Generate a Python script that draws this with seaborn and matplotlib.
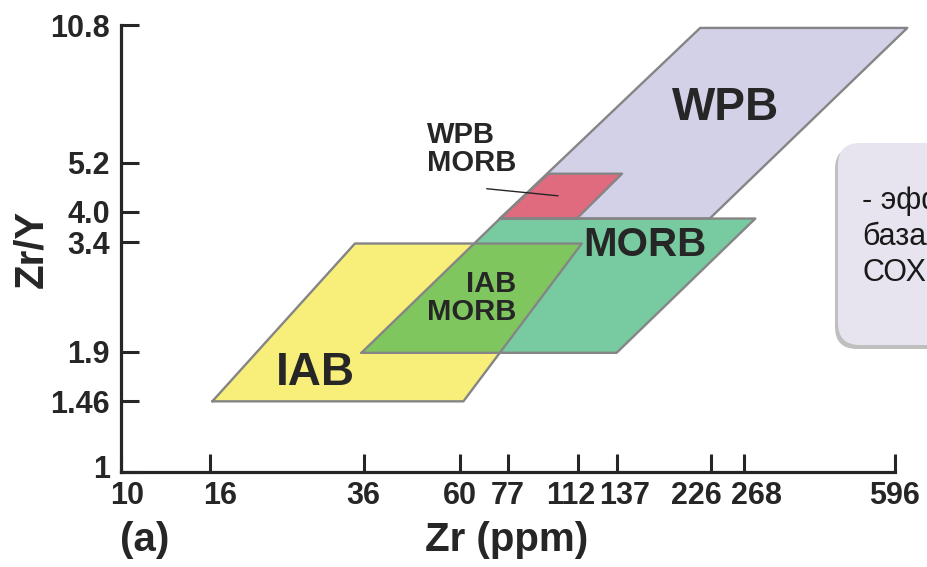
import matplotlib
matplotlib.use("Agg")
import matplotlib.pyplot as plt
import matplotlib.transforms as mtransforms
from matplotlib.patches import FancyBboxPatch
from matplotlib.ticker import FixedLocator, FixedFormatter, NullLocator
import seaborn as sns

# ---------------- data ----------------
x_ticks = [10, 16, 36, 60, 77, 112, 137, 226, 268, 596]
x_tick_labels = ["10", "16", "36", "60", "77", "112", "137", "226", "268", "596"]
y_ticks = [1, 1.46, 1.9, 3.4, 4.0, 5.2, 10.8]
y_tick_labels = ["1", "1.46", "1.9", "3.4", "4.0", "5.2", "10.8"]

iab_zr = [16.2, 61, 114, 34.4]
iab_zry = [1.46, 1.46, 3.38, 3.38]

morb_zr = [35.6, 137, 285, 74]
morb_zry = [1.89, 1.89, 3.86, 3.86]

wpb_zr = [74, 224, 636, 213]
wpb_zry = [3.86, 3.86, 10.64, 10.64]

wpbmorb_zr = [74, 111, 141, 95.5]
wpbmorb_zry = [3.86, 3.86, 4.9, 4.9]

# ---------------- style ----------------
sns.set_theme(style="ticks")
plt.rcParams["font.family"] = ["Liberation Sans", "DejaVu Sans"]
plt.rcParams["font.weight"] = "bold"

ink = "#262626"
edge = "#858585"

fig = plt.figure(figsize=(9.27, 5.67), dpi=100)
ax = fig.add_axes([0.1305, 0.1667, 0.835, 0.789])
ax.set_facecolor("white")
ax.set_xscale("log")
ax.set_yscale("log")
ax.set_xlim(10, 596)
ax.set_ylim(1, 10.8)

# ---------------- fields ----------------
yellow = ax.fill(iab_zr, iab_zry, facecolor="#f7ef7a", edgecolor="none", zorder=1)[0]
ax.fill(morb_zr, morb_zry, facecolor="#78caa0", edgecolor="none", zorder=2)
overlap = ax.fill(morb_zr, morb_zry, facecolor="#80c65e", edgecolor="none", zorder=3)[0]
overlap.set_clip_path(yellow)
ax.fill(wpb_zr, wpb_zry, facecolor="#d3d1e8", edgecolor="none", zorder=2, clip_on=False)
ax.fill(wpbmorb_zr, wpbmorb_zry, facecolor="#e06a7e", edgecolor="none", zorder=4)

for zr, zry in [(iab_zr, iab_zry), (morb_zr, morb_zry), (wpb_zr, wpb_zry),
                (wpbmorb_zr, wpbmorb_zry)]:
    sns.lineplot(x=zr + [zr[0]], y=zry + [zry[0]], sort=False, estimator=None,
                 color=edge, lw=1.7, ax=ax, zorder=5, clip_on=False, legend=False)

# ---------------- labels inside ----------------
ax.text(243, 6.94, "WPB", fontsize=33, ha="center", va="center", color=ink, zorder=6)
ax.text(159, 3.35, "MORB", fontsize=29, ha="center", va="center", color=ink, zorder=6)
ax.text(27.9, 1.70, "IAB", fontsize=33, ha="center", va="center", color=ink, zorder=6)
ax.text(80.5, 2.525, "IAB\nMORB", fontsize=21, ha="right", va="center",
        multialignment="right", linespacing=1.0, color=ink, zorder=6)
ax.text(50.3, 5.6, "WPB\nMORB", fontsize=21, ha="left", va="center",
        multialignment="left", linespacing=1.0, color=ink, zorder=6)
ax.annotate("", xy=(102, 4.35), xytext=(68, 4.53),
            arrowprops=dict(arrowstyle="-", color=ink, lw=1.0), zorder=6)

# ---------------- axes ----------------
sns.despine(ax=ax)
for s in ("left", "bottom"):
    ax.spines[s].set_linewidth(2.3)
    ax.spines[s].set_color(ink)
    ax.spines[s].set_zorder(7)

ax.xaxis.set_major_locator(FixedLocator(x_ticks))
ax.xaxis.set_major_formatter(FixedFormatter(x_tick_labels))
ax.xaxis.set_minor_locator(NullLocator())
ax.yaxis.set_major_locator(FixedLocator(y_ticks))
ax.yaxis.set_major_formatter(FixedFormatter(y_tick_labels))
ax.yaxis.set_minor_locator(NullLocator())
ax.tick_params(axis="both", direction="in", length=13, width=2.2, color=ink,
               labelsize=22, labelcolor=ink)
ax.tick_params(axis="x", pad=6)
ax.tick_params(axis="y", pad=8)

# nudge crowded tick labels sideways (pixels), as in the original figure
x_label_shift = [6, 10, 0, 0, 0, -8, 8, -15, 13, 0]
y_label_shift = [6, 0, 0, 0, 0, 0, 0]
for tick, dx in zip(ax.xaxis.get_major_ticks(), x_label_shift):
    tick.label1.set_fontweight("bold")
    tick.label1.set_transform(tick.label1.get_transform()
                              + mtransforms.ScaledTranslation(dx / 100, 0, fig.dpi_scale_trans))
for tick, dy in zip(ax.yaxis.get_major_ticks(), y_label_shift):
    tick.label1.set_fontweight("bold")
    tick.label1.set_transform(tick.label1.get_transform()
                              + mtransforms.ScaledTranslation(0, dy / 100, fig.dpi_scale_trans))

ax.set_xlabel("Zr (ppm)", fontsize=29, fontweight="bold", color=ink, va="center")
ax.xaxis.set_label_coords(0.4987, -0.151)
ax.set_ylabel("Zr/Y", fontsize=29, fontweight="bold", color=ink, va="center")
ax.yaxis.set_label_coords(-0.116, 0.50)

fig.text(145 / 927, 1 - 540 / 567, "(a)", fontsize=29, fontweight="bold",
         ha="center", va="center", color=ink)

# ---------------- note box (cut by the right edge) ----------------
ident = mtransforms.IdentityTransform()
shadow = FancyBboxPatch((835, 567 - 349), 160, 202,
                        boxstyle="round,pad=0,rounding_size=22",
                        facecolor="#8c8c8c", edgecolor="none", alpha=0.55,
                        transform=ident, zorder=8)
box = FancyBboxPatch((838, 567 - 345), 160, 202,
                     boxstyle="round,pad=0,rounding_size=22",
                     facecolor="#e7e4f0", edgecolor="none",
                     transform=ident, zorder=9)
fig.add_artist(shadow)
fig.add_artist(box)
fig.text(862 / 927, 1 - 237 / 567, "- эффективна\nбазальтов\nСОХ",
         fontsize=22, fontweight="normal", ha="left", va="center",
         linespacing=1.25, color="#1a1a1a", zorder=10)

fig.savefig("out.png", dpi=100)
